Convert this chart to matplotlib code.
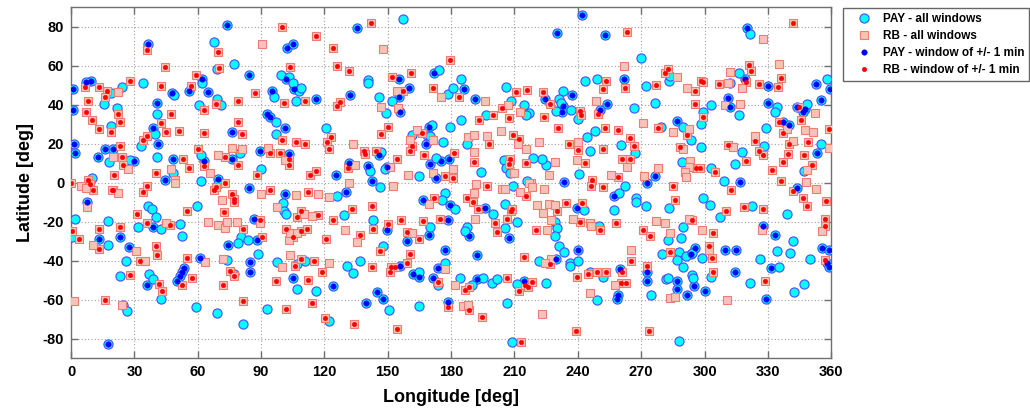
import matplotlib
matplotlib.use("Agg")
import matplotlib.pyplot as plt
import numpy as np

# ---------------- data (lon [deg], lat [deg]) ----------------
pay_window_pts = [
    (74,81),(36.6,71),(102.5,69),(105,71),(62,53),(9.5,52),(7,51.6),(0.8,48),(0.8,37),(40.6,41),
    (38.7,28),(48,46),(56,47),(65,46.5),(84.5,55),(95,47),(102,53),(105.6,48),(116,43),(93,35),
    (94,33.7),(101.5,28),(76,26),(41,20),(16,17),(20,17),(1.6,20),(2,15),(12.6,13),(30,11),
    (48.5,12.3),(44.7,1.2),(63,11),(69.6,2),(76,12),(89.5,16),(103.4,14.6),
    (84.5,-2.7),(101.5,-6),(7.4,-10),(13,-29),(23,-28),(27.5,-33),(38.7,-22.7),(36,-52.8),(53.5,-43.8),
    (52.6,-46),(51.6,-48),(50.4,-50.6),(61,-38.6),(74.5,-32),(88,-29.6),(86.8,-18.5),(84.8,-41),(84.8,-46),
    (17.7,-82.6),(105,-49),
    (135.3,79),(155.4,53),(172,56.2),(132,45),(155.4,44),(160,48.5),(186.3,48),(191.4,43),(156,36),
    (169.3,28.5),(168,19.5),(145.6,14.3),(179,12.3),(175.3,11),(170,9.6),(173,2.2),(149.7,8),(140.8,8.4),
    (131.7,10),(125.7,4),(142.4,0.6),
    (130.3,-5),(196,-13.3),(166.9,-9),(179.5,-11.6),(149.5,-24.5),(159,-30),(169.3,-26.7),(178.5,-19),
    (188.4,-27.5),(177.2,-34.7),(192.2,-37),(124,-53),(155.8,-43),(162,-46.8),(165,-48.4),(171.4,-49.2),
    (174,-43.8),(192.2,-49.4),(144.8,-56.2),(147.5,-59.5),(139.7,-61.7),(178.7,-61.4),
    (241.9,86),(230,76.8),(252.7,75.6),(237.2,45),(224.6,43),(232.9,39),(232.4,36),(262,53.3),(253.6,40.3),
    (250.7,37),(276.7,3.2),(233.5,0.2),
    (257,-6.7),(272.8,0),(239.4,-13.3),(207.4,-28.4),(240.1,-34.7),(229.6,-39),(260.2,-44.6),(272.8,-46),
    (272.8,-50.6),(259.2,-57.8),(258.5,-59.7),(214.4,-50.3),
    (320.3,79.3),(319.3,53.2),(330,49.7),(311,43.2),(312.2,38.8),(330,41),(343.6,38.6),(347.6,37.8),
    (346.5,36),(352.7,50.3),(359.3,48),(355,42.2),(337.4,31.2),(340,29.7),(353.1,14.9),(317,0.5),(287.1,31.8),
    (343.6,-2.7),(327.6,-22.4),(333.6,-26.7),(355.7,-33.8),(358.9,-34.7),(358,-41.2),(359,-43.2),(331.3,-44),
    (329.3,-59.7),(314.4,-46),(309.6,-34.7),(314.8,-34.7),(293.4,-36.9),(295.3,-33.8),(287.1,-50.6),
    (287.1,-54.4),(295.1,-53.2),(291.8,-57.9),(300,-55.7),
]

pay_other_pts = [
    (67.6,72),(77,61),(69,58),(62,51),(34,51),(24,49),(19,46),(15.5,40.5),(21.6,38),(19,29),
    (40.6,35),(39.8,25),(48.8,44.8),(69,42.6),(71,39.5),(60.8,40),(96,44),(99.6,55),(103.4,54),(105,51),
    (108,46.7),(109,48.5),(106.7,42),(97,31),(97,25),(33,18.6),(18,10.6),(28,11.6),(40.7,13),(48.5,5),
    (61.6,14),(69.6,-1),(80,15),(89.8,7),(61.6,0.7),(10,2.4),
    (2,-18.6),(0.3,-28),(17.7,-19.5),(17.7,-32),(26,-40),(23,-47.7),(31.9,-23),(36.5,-12),(38.5,-13.4),
    (40,-17.6),(42.6,-23.6),(51.6,-21.5),(52.7,-27.5),(37,-46.8),(38.7,-49.7),(42.6,-59.7),(59.8,-12),
    (59.4,-64),(69.3,-67),(80.7,-28),(79,-31),(84,-29.6),(88.4,-36.4),(73.7,-39.5),(77,-47),(81.2,-72.5),
    (92.7,-65),(24.8,-63),(26.4,-66),(97.7,-41),(107,-42),(111,-40),(107,-54.5),(116,-55.7),(100.6,-10.4),
    (101,-14.7),(102,-16.4),
    (157.4,83.6),(174.3,57.6),(184.7,53),(140.4,52.7),(140.6,50.8),(146,44),(152,42),(178.5,45.5),(181,48.4),
    (149,35.5),(184.7,32.3),(196.4,34.5),(120.8,27.7),(147,15.7),(161.3,24.3),(170.7,29.5),(168.6,24.3),
    (170,24),(176,21),(179.5,28.4),(187.4,20),(194,5.5),(172.6,12.8),(164.7,3.2),(148.7,7),(141.8,5.8),
    (126,-7),(146.4,-2.2),(177,-5.3),(175.9,-9),(181.6,-13.8),(129.2,-16.8),(143.2,-19),(170,-23),
    (187.3,-22.7),(186.8,-25),(147.5,-32.3),(130.6,-43),(133.5,-46.3),(136.7,-40),(164.7,-45.8),(173.8,-52.8),
    (177.2,-41.5),(184.3,-49.2),(190,-52.8),(195.3,-49.2),(150.6,-65.6),(164.8,-63.4),(122.2,-70.8),
    (269.8,64),(206.2,49),(232.8,47),(231.3,42.6),(232,41),(229.5,36.5),(236.8,37),(243.6,52),(249.2,53.3),
    (272.3,49.7),(276.7,40.7),(240.3,32.6),(266.7,38.3),(208.3,41.7),(214.7,40),(216.8,35.7),(215.3,34.5),
    (248,26.3),(244.5,23.4),(267.3,15),(260.5,19),(246,16),(240.5,4.5),(225,8.9),(222.9,12.3),(219,12.7),
    (204.8,11.3),(206,7.2),(208,5),(216,1),
    (209.5,-1.9),(259.4,-5.3),(262.5,-1.9),(267.6,-7.9),(267.6,-10),(272.5,-12),(243,-14.2),(257,-14.2),
    (205.3,-10.8),(199.6,-16),(211,-20.2),(205.6,-23.2),(229.2,-20.2),(230,-23.2),(229,-27.5),(250,-22.4),
    (231.3,-32.6),(233.5,-35.4),(221.5,-40),(236.4,-41.5),(236.4,-42.9),(240.1,-40),(245.6,-46),(252,-48.4),
    (274.8,-57.8),(249,-60.5),(199.3,-51.5),(201.7,-49.4),(211,-51.8),(224.9,-51.5),(206.5,-62),(208.9,-81.9),
    (321.7,76),(316.5,56),(312,51),(283.2,51.8),(283.7,54.6),(299.4,36.3),(298.4,30),(303.1,39.8),(316.3,34.5),
    (334.2,38.6),(333.6,36),(348.3,40.3),(357.8,53.3),(329,27.9),(328.1,18.6),(355,20),(347,5.8),(317.6,15.5),
    (314.6,9.5),(309.1,0.7),(298.4,18),(293.4,21.7),(289.8,28.4),(279.6,28.5),(289.5,10.6),(303.1,7.6),
    (299.4,-7.9),(302.4,-11.6),(283,-13),(322.4,-12.1),(307.5,-17.6),(338.9,-16.2),(342,-30),(334.2,-34.9),
    (340.5,-36),(349.9,-39),(335.2,-43.2),(326.4,-39),(321.7,-51.5),(342.4,-56.2),(347.1,-51.8),(303.1,-48.4),
    (289.8,-22.7),(282.7,-29.6),(288.7,-28.4),(280,-36.9),(287.8,-35.7),(287,-39.8),(291.4,-37.8),(294.2,-36),
    (298.7,-38.8),(289.8,-43.2),(281.6,-49.7),(282.7,-48.9),(294.2,-47.2),(294.7,-48.9),(287.9,-81.4),
]

rb_window_pts = [
    (100,80),(116,75),(36,68),(69.6,67),(44.4,59),(70,58.5),(103.7,59),(59,55),(28,52),(17,47),
    (16,44),(6.6,49),(13,49),(8,42),(22,35),(23,31),(19,26),(10,32),(7,36),(13,27.5),
    (42.8,30.5),(44.8,26),(51,26.5),(47.5,35),(42.8,49.4),(57,49.7),(68.7,40.5),(63,37),(79,42),(87,46),
    (111,42),(101,41),(100,22),(106.7,21),(111,20),(81,25),(79,31),(63,25.5),(60,17.4),(34,22),
    (36,24),(23,18.6),(24,13),(24.6,9),(20.5,4),(40,5),(53,12.3),(56,7.4),(63,8.4),(73,-0.5),
    (73,13),(79,9),(88,3.6),(94,15.3),(99,15),(103,12),(103,9),(113,3.6),(116,6),(8,1.5),(0,0),(9,-1),
    (10.4,-4),(20,-3.6),(19.4,-4),(34,-5),(36,-2),(67.7,-3.6),(68.7,-2.2),(72.6,-15),(76,-5.8),(77,-8.7),
    (77,-10),(94,-3.6),(112,-5),(0.3,-25),(3.6,-29),(13.4,-34),(13.4,-24),(23,-23),(32.7,-40),(28,-47.5),
    (31,-16),(36,-21),(47,-22),(55,-14.7),(40,-32.6),(40.6,-37),(41.8,-51.8),(43,-55.4),(52.4,-52.8),
    (55,-38.8),(57.3,-49),(81.6,-23.6),(89.5,-19),(90.6,-28),(75.3,-45.5),(77,-48),(72,-52.8),(81.3,-61),
    (16,-60),(101.8,-24),(105.3,-28),(109,-25),(111.6,-24),(107,-17.6),(109,-14.7),(117,-16.8),(106,-43),
    (109,-39),(115,-40),(112.4,-50),(97,-50.6),(102,-64.8),(114,-62),
    (142,82),(124,69),(179.5,63),(126,60),(131.4,57),(152,54),(161,56),(157,47),(171.4,48.5),(183.5,44),
    (127.4,41.5),(126,39),(193,32.3),(123,23.4),(121.4,21),(122,17),(150.3,28.4),(147,25),(138.5,16.4),
    (139.4,14.7),(144.5,16.4),(154.2,12.3),(166,25.5),(161.3,18.6),(160.7,16.4),(167.3,14.3),(198,19.5),
    (190.7,10.4),(181.3,15),(177,3.2),(181,2.4),(131,7.3),
    (187.4,-7.9),(190.2,-10),(192.8,-13.5),(172,-7.9),(142.7,-11.8),(133.2,-13.8),(124,-19),(137,-26.7),
    (143,-24),(150.3,-21.2),(156.3,-19),(166.9,-19.5),(159.3,-25.3),(165,-28.9),(174.5,-18.6),(120.8,-29.2),
    (146.4,-34.9),(160.5,-36.6),(119,-45.8),(142.3,-43.4),(151.3,-43.2),(153.2,-43.2),(151,-46),(159,-41.2),
    (173.6,-50.8),(186.4,-54.9),(188.3,-53.5),(178.3,-63.8),(188.3,-65.5),(194.5,-69),(120.3,-69.7),
    (134.2,-72.5),(154.3,-74.9),
    (263.5,77),(210.6,46.5),(215.8,47.2),(223.5,46.3),(227,40.3),(253.5,51.8),(252,48),(262.2,48.5),(277,50),
    (249.4,35),(241.2,36.6),(241.7,34.4),(278,28),(204.3,38),(207.5,33.2),(200,34.5),(223.8,33.7),(230.4,28),
    (252.7,27.7),(259,26.8),(264.6,22.6),(266.8,18.6),(251.8,17.4),(261,12.2),(264.9,12.3),(236,19.5),
    (240.3,16.6),(243.3,10),(215.3,10.1),(212,22.4),(209.2,24.6),(208,12),(207.2,9.4),(259,2.7),(246.6,1.5),
    (197,-1.9),(215.3,-6.7),(246.4,-1.9),(252,-2.2),(230,-14.7),(234.3,-10.4),(242.2,-10.4),(208.3,-14.7),
    (209,-13.8),(206.6,-18.6),(200.6,-20.7),(201.7,-25.5),(220.2,-24.4),(241.2,-20.2),(250.5,-24.6),
    (258,-20.7),(271,-24.6),(274.4,-27.5),(227,-41.7),(214.4,-38.1),(239.8,-48.5),(245,-46.7),(249.2,-45.8),
    (253.2,-45.8),(261,-46),(260.4,-51.5),(262.9,-51.5),(265.4,-40.5),(272.8,-42.6),(206.5,-49.2),(212,-55.7),
    (215,-52.3),(216.3,-53.5),(218.3,-51),(239,-75.9),(273.6,-75.9),(213.1,-81.9),
    (342,81.9),(321.2,60.2),(322,57),(319.8,51.5),(307,50.3),(325.6,50.3),(335,48.9),(336.2,53.5),(298.3,52),
    (299.4,51.6),(295.3,47),(281.5,56),(282.9,58.4),(295.3,40.5),(299.4,33.5),(344.7,38.8),(345.7,32.3),
    (335.2,31.2),(337.3,25.5),(359,27.5),(324,21.2),(326,16),(327.9,14.2),(340,19.8),(348.8,20.9),(347.3,14),
    (339.4,14.7),(337,10.6),(351,9.2),(331.9,6.3),(336.3,0.7),(319.7,10.9),(311,19.3),(291.8,24.6),
    (288.4,18.3),(296.2,7.6),(297.8,7.6),(305.2,5.5),
    (285.1,-1.9),(312.5,-3.9),(342,-4.4),(285.9,-9),(318.8,-12.5),(327.9,-13.8),(310.4,-14.7),(346.8,-7.9),
    (348.7,-11.8),(357.3,-9.6),(357,-18.6),(357,-22.4),(357,-39.5),(328.8,-50.3),(304,-46),(303.7,-38.6),
    (302.2,-32.6),(304,-25.8),(293.9,-19),(283.8,-35.7),
]

rb_other_pts = [
    (90.6,71),(22,46.5),(76,17.6),(81,17.4),(93.3,17.8),(101.5,11.5),(27,7),(20,13),(47.5,7),(49,1.2),
    (66,5),(69.8,14),
    (4.6,-2),(7,-2.7),(22.4,-5.6),(49,0),(71.7,-9),(90,-5.8),(106.4,-6.5),(117,-6),(7.4,-12.5),(10.6,-32),
    (30.8,-35),(35,-40),(45,-20.7),(63.5,-41),(64.7,-20.3),(69.5,-21.8),(73,-23.4),(74,-20.3),(78.8,-20),
    (89.7,-20.7),(72,-39),(24,-62.6),(1.4,-61),(99.8,-43.4),(103,-29.7),(103.7,-26),(107,-26),(110.5,-16),
    (114,-17),(103.7,-37),(97.4,-12.5),
    (147.8,68.7),(154.4,47),(175,44),(196,42),(147,38.8),(154.7,38.3),(133.7,20),(164,26.7),(171.6,21.8),
    (160.6,21.6),(188,23.3),(190.7,24.5),(197,24),(190.6,15.6),(181,6.7),(171.4,5),(159.8,3.6),(151,8),
    (134.5,8.9),(131.4,0),
    (122,-7.4),(152.7,-1.9),(192,-1),(190.8,-5.3),(191.2,-18.6),(169.3,-11),(129.6,-24.6),(135.2,-30.4),
    (161.4,-25.8),(122,-41.2),(177,-44.6),(181.6,-52.3),(185.4,-63.4),(188,-62.6),
    (262,60),(248.6,41.7),(271,30.3),(206.9,39.6),(212.6,36.2),(203.4,26.3),(211.5,20),(215.5,17),
    (221.7,20.7),(240,21),(239.6,11.8),(229,10.4),(226.5,4),(263.3,7.9),(271.2,3.2),(255.7,3.6),(210,5),
    (217.6,0),
    (204,-3.2),(205.6,-3.2),(217,-0.5),(218.2,-2.2),(212.4,-4.8),(223.8,-3.2),(220.7,-11.3),(226.5,-10.8),
    (229.3,-11.3),(223.3,-15.6),(225.4,-24.6),(227.3,-19.3),(237.5,-18.6),(245.8,-21),(246.4,-22.4),
    (277,-19.8),(227.3,-39),(224.6,-41.5),(257.4,-52.8),(265.4,-34.7),(245.6,-56.6),(222.9,-67.4),
    (327.6,73.8),(335.5,61),(312,56.6),(311,51.2),(317.7,48.5),(291.8,48.5),(286.8,54.2),(309.9,40),
    (316.6,40.3),(352.4,35.4),(339,27.5),(347.6,26.8),(351.2,25.8),(323.9,24.1),(342.1,21.2),(359,17.8),
    (348.7,6.2),(348,0.5),(313.5,18.3),(292.6,27.2),(285,25.8),(290,17),(293,11),(292.6,8.1),(290.6,5.3),
    (291,3),(278.2,7.6),
    (352.6,-3.2),(355.7,-25),(327.1,-24.4),(302.2,-34.7),(298.9,-24.4),(292.6,-18.6),(283.5,-25.8),
    (281.1,-21),(283.8,-59.1),(285.9,-58.6),(310.7,-60.5),
]

x_ticks = list(range(0, 361, 30))
y_ticks = list(range(-80, 81, 20))
labels = ["PAY - all windows", "RB - all windows",
          "PAY - window of +/- 1 min", "RB - window of +/- 1 min"]

# ---------------- plotting ----------------
plt.rcParams['font.family'] = ['Liberation Sans', 'DejaVu Sans']
plt.rcParams['font.weight'] = 'bold'
plt.rcParams['axes.unicode_minus'] = False

pw = np.array(pay_window_pts)
po = np.array(pay_other_pts)
rw = np.array(rb_window_pts)
ro = np.array(rb_other_pts)
pay_all = np.vstack([pw, po])
rb_all = np.vstack([rw, ro])

fig = plt.figure(figsize=(10.30, 4.12), dpi=100)
ax = fig.add_axes([0.069, 0.131, 0.738, 0.852])

h1, = ax.plot(pay_all[:, 0], pay_all[:, 1], 'o', ms=6.6, mfc='#00FFFF',
              mec='#4A4AFF', mew=0.8, ls='none', zorder=3)
h2, = ax.plot(rb_all[:, 0], rb_all[:, 1], 's', ms=5.8, mfc='#F7C2BA',
              mec='#EE7C70', mew=0.8, ls='none', zorder=3)
h3, = ax.plot(pw[:, 0], pw[:, 1], 'o', ms=4.0, mfc='#0000FF', mec='#0000EE',
              mew=0.3, ls='none', zorder=4)
h4, = ax.plot(rw[:, 0], rw[:, 1], 'o', ms=3.3, mfc='#FF0000', mec='#FF0000',
              mew=0.3, ls='none', zorder=4)

ax.set_xlim(0, 360)
ax.set_ylim(-90, 90)
ax.set_xticks(x_ticks)
ax.set_yticks(y_ticks)
ax.grid(True, linestyle=(0, (1, 2)), color='#A0A0A0', linewidth=0.8)
ax.set_axisbelow(True)
ax.tick_params(direction='in', length=5, width=1.0, top=True, right=True,
               labelsize=10.5, color='#707070', pad=5)
for lab in ax.get_xticklabels() + ax.get_yticklabels():
    lab.set_fontweight('bold')
for sp in ax.spines.values():
    sp.set_color('#707070')
    sp.set_linewidth(1.0)

ax.set_xlabel('Longitude [deg]', fontsize=13, fontweight='bold', labelpad=7)
ax.set_ylabel('Latitude [deg]', fontsize=13, fontweight='bold', labelpad=6)

leg = fig.legend([h1, h2, h3, h4], labels, loc='upper left',
                 bbox_to_anchor=(0.8184, 0.981), frameon=True, fancybox=False,
                 prop={'weight': 'bold', 'size': 8.5}, numpoints=1,
                 handlelength=2.6, handletextpad=0.3, borderpad=0.45,
                 labelspacing=0.42, borderaxespad=0.0)
leg.get_frame().set_edgecolor('#404040')
leg.get_frame().set_linewidth(1.0)

fig.savefig('out.png', dpi=100)
